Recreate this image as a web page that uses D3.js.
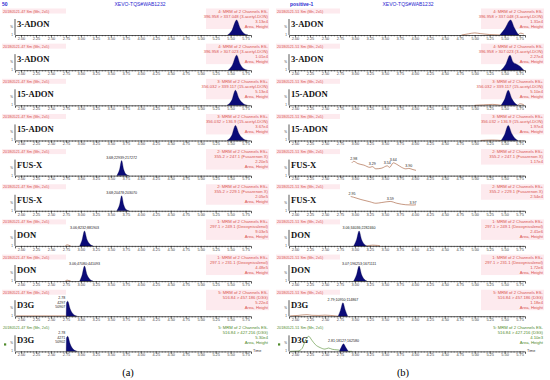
<!DOCTYPE html>
<html>
<head>
<meta charset="utf-8">
<script src="https://cdn.jsdelivr.net/npm/d3@7"></script>
<style>
  body { margin: 0; background: #fff; }
  svg { display: block; font-family: "Liberation Sans", Arial, sans-serif; }
</style>
</head>
<body>
<div id="chart"></div>
<script>
var W = 550, H = 380;

// ---- data ----
var instrument = "XEVO-TQS#WAB1232";
var sampleNames = ["50", "positive-1"];
var runHeaders = ["20180521-47 Sm (Mn, 2x5)", "20180521-51 Sm (Mn, 2x5)"];
var compounds = ["3-ADON", "3-ADON", "15-ADON", "15-ADON", "FUS-X", "FUS-X", "DON", "DON", "D3G", "D3G"];
var channelLines = ["4: MRM of 2 Channels ES-", "4: MRM of 2 Channels ES-", "3: MRM of 2 Channels ES+", "3: MRM of 2 Channels ES+",
  "2: MRM of 2 Channels ES+", "2: MRM of 2 Channels ES+", "1: MRM of 2 Channels ES+", "1: MRM of 2 Channels ES+",
  "5: MRM of 2 Channels ES-", "5: MRM of 2 Channels ES-"];
var transitions = ["396.958 > 337.048 (3-acetyl-DON)", "396.958 > 307.023 (3-acetyl-DON)",
  "356.032 > 339.117 (15-acetyl-DON)", "356.032 > 136.9 (15-acetyl-DON)",
  "355.2 > 247.1 (Fusarenon X)", "355.2 > 229.1 (Fusarenon X)",
  "297.1 > 249.1 (Deoxynivalenol)", "297.1 > 231.1 (Deoxynivalenol)",
  "516.84 > 457.186 (D3G)", "516.84 > 427.216 (D3G)"];
var intensityA = ["3.13e4", "1.01e4", "5.13e4", "3.67e4", "2.20e5", "2.05e5", "9.03e5", "4.48e5", "5.22e4", "5.30e4"];
var intensityB = ["1.31e4", "2.27e4", "5.10e4", "1.97e4", "1.17e4", "2.54e4", "2.41e6", "1.72e6", "1.18e4", "4.10e3"];
var areaHeightB = [true, true, true, true, false, false, true, true, true, true];
var xTicks = [2.00, 2.25, 2.50, 2.75, 3.00, 3.25, 3.50, 3.75, 4.00, 4.25, 4.50, 4.75, 5.00, 5.25, 5.50, 5.75];

// integrated peaks: [retention time, % of full scale]
var peaksA = [
  [[5.45,0],[5.52,30],[5.60,100],[5.66,45],[5.72,12],[5.79,0]],
  [[5.46,0],[5.53,35],[5.60,100],[5.66,40],[5.72,10],[5.78,0]],
  [[5.44,0],[5.52,35],[5.58,100],[5.64,45],[5.71,12],[5.78,0]],
  [[5.44,0],[5.52,35],[5.58,100],[5.64,45],[5.71,12],[5.78,0]],
  [[3.60,0],[3.645,40],[3.68,100],[3.715,40],[3.75,10],[3.80,0]],
  [[3.60,0],[3.645,40],[3.68,100],[3.715,40],[3.75,10],[3.80,0]],
  [[2.98,0],[3.02,40],[3.06,100],[3.10,45],[3.15,12],[3.20,0]],
  [[2.98,0],[3.02,40],[3.06,100],[3.10,45],[3.15,12],[3.20,0]],
  [[2.755,0],[2.76,90],[2.78,100],[2.82,50],[2.87,15],[2.94,0]],
  [[2.755,0],[2.76,90],[2.78,100],[2.82,50],[2.87,15],[2.94,0]]
];
var peaksB = [
  [[5.42,0],[5.50,40],[5.60,100],[5.66,50],[5.70,20],[5.74,0]],
  [[5.44,0],[5.52,40],[5.59,100],[5.64,55],[5.70,40],[5.76,25],[5.82,0]],
  [[5.44,0],[5.50,40],[5.56,100],[5.62,45],[5.67,15],[5.72,0]],
  [[5.44,0],[5.50,40],[5.56,100],[5.62,45],[5.67,15],[5.72,0]],
  null,
  null,
  [[2.98,0],[3.03,45],[3.07,100],[3.11,45],[3.15,15],[3.20,0]],
  [[2.98,0],[3.03,45],[3.07,100],[3.11,45],[3.15,15],[3.20,0]],
  [[2.72,0],[2.76,40],[2.80,90],[2.84,40],[2.88,0]],
  [[2.74,0],[2.77,25],[2.81,50],[2.85,25],[2.89,0]]
];

// baseline traces (segments)
var noiseA = [[], [], [], [], [], [],
  [[[2.74,0],[2.77,7],[2.80,4],[2.83,0]]],
  [[[2.74,0],[2.77,6],[2.80,3],[2.83,0]]],
  [[[1.92,2],[2.30,2],[2.74,2],[2.76,0]]],
  []
];
var noiseB = [
  [[[4.78,0],[4.90,8],[5.00,14],[5.10,9],[5.25,3],[5.42,0]], [[5.72,0],[5.77,12],[5.82,6]]],
  [],
  [[[5.00,0],[5.15,3],[5.30,6],[5.44,0]], [[5.72,0],[5.76,10],[5.82,4]]],
  [[[5.10,0],[5.30,3],[5.44,0]]],
  [[[2.95,85],[2.98,95],[3.05,80],[3.15,70],[3.25,55],[3.29,60],[3.35,45],[3.45,50],[3.54,65],[3.58,55],[3.64,85],[3.70,75],[3.78,55],[3.85,45],[3.90,48],[3.97,40],[4.02,35]]],
  [[[2.93,95],[2.98,90],[3.10,75],[3.25,60],[3.35,50],[3.45,55],[3.59,62],[3.70,50],[3.85,40],[3.97,38],[4.02,40]]],
  [[[3.20,0],[3.30,5],[3.38,3],[3.42,0]]],
  [],
  [[[1.92,2],[2.05,5],[2.12,8],[2.20,10],[2.28,6],[2.40,5],[2.50,7],[2.60,5],[2.72,0]]],
  [[[1.92,0],[2.05,2],[2.12,20],[2.18,80],[2.23,100],[2.28,75],[2.34,45],[2.42,25],[2.50,15],[2.56,22],[2.62,14],[2.70,10],[2.74,8]], [[2.89,0],[2.95,0]]]
];

// peak annotations: [rt, text lines]
var labelsA = [null, null, null, null,
  [3.68, ["3.68;22939;217272"]], [3.68, ["3.68;20478;203070"]],
  [3.06, ["3.06;8232;881903"]], [3.06, ["3.06;47080;441093"]],
  [2.755, ["2.78", "4297", "50907"]], [2.755, ["2.78", "4271", "50902"]]];
var labelsB = [null, null, null, null,
  [[2.98, "2.98"], [3.29, "3.29"], [3.54, "3.54"], [3.64, "3.64"], [3.90, "3.90"]],
  [[2.95, "2.95"], [3.59, "3.59"], [3.97, "3.97"]],
  [[3.07, "3.06;34036;2282460"]], [[3.07, "3.07;196253;1671111"]],
  [[2.80, "2.79;10950;114867"]], [[2.81, "2.81;18127;162580"]]];

// ---- layout ----
var RED = "#d9534f", GREEN = "#4f8a2b", BLUE = "#2a2ad0", NAVY = "#0b0b78", BROWN = "#a0522d";
var rowY = d3.range(10).map(function(i) { return 35 + i * 35.15; });
var panels = [
  {x0: 15, x1: 251, right: 268, title: 140, intens: intensityA, peaks: peaksA, noise: noiseA, header: runHeaders[0], name: sampleNames[0]},
  {x0: 289, x1: 525, right: 543, title: 408, intens: intensityB, peaks: peaksB, noise: noiseB, header: runHeaders[1], name: sampleNames[1]}
];

var svg = d3.select("#chart").append("svg").attr("width", W).attr("height", H);

panels.forEach(function(p, pi) {
  var x = d3.scaleLinear().domain([1.9, 5.84]).range([p.x0, p.x1]);
  var g = svg.append("g");

  g.append("text").attr("x", pi ? p.x0 + 1 : 2).attr("y", 6)
    .attr("font-size", 5).attr("font-weight", "bold").attr("fill", BLUE).text(p.name);
  g.append("text").attr("x", p.title).attr("y", 6).attr("text-anchor", "middle")
    .attr("font-size", 5).attr("fill", BLUE).text(instrument);

  compounds.forEach(function(c, i) {
    var base = rowY[i];
    var col = i === 9 ? GREEN : RED;
    var y = d3.scaleLinear().domain([0, 100]).range([base, base - 15]);
    var row = g.append("g");

    // header line (run name) with pale highlight
    var hy = base - 22.5;
    if (i < 9) row.append("rect").attr("x", p.x0 - 13).attr("y", hy - 4).attr("width", 64).attr("height", 5).attr("fill", "#fdeaee");
    row.append("text").attr("x", p.x0 - 12).attr("y", hy).attr("font-size", 3.8).attr("fill", col).text(p.header);

    // right-hand channel info
    var info = [channelLines[i], transitions[i], p.intens[i]];
    if (pi === 0 || areaHeightB[i]) info.push("Area, Height");
    if (i < 9) row.append("rect").attr("x", p.right - 62).attr("y", hy - 4).attr("width", 63).attr("height", info.length * 5 + 0.5).attr("fill", "#fdeaee");
    info.forEach(function(t, k) {
      row.append("text").attr("x", p.right).attr("y", hy + k * 5).attr("text-anchor", "end")
        .attr("font-size", 4.2).attr("fill", col).text(t);
    });

    // compound label
    row.append("text").attr("x", p.x0 + 2).attr("y", base - 8).attr("font-family", "'Liberation Serif', 'Times New Roman', serif")
      .attr("font-weight", "bold").attr("font-size", 8.6).attr("fill", "#111").text(c);

    // y axis stub
    row.append("line").attr("x1", p.x0).attr("x2", p.x0).attr("y1", base - 16).attr("y2", base).attr("stroke", "#111").attr("stroke-width", 0.7);
    row.append("text").attr("x", p.x0 - 2).attr("y", base - 7).attr("font-size", 3).attr("text-anchor", "end").attr("fill", "#333").text("%");
    row.append("text").attr("x", p.x0 - 2).attr("y", base + 1).attr("font-size", 3).attr("text-anchor", "end").attr("fill", "#333").text("1");

    // baseline traces
    var line = d3.line().x(function(d) { return x(d[0]); }).y(function(d) { return y(d[1]); }).curve(d3.curveMonotoneX);
    p.noise[i].forEach(function(seg) {
      row.append("path").attr("d", line(seg)).attr("fill", "none")
        .attr("stroke", pi === 1 && i === 9 ? GREEN : BROWN).attr("stroke-width", 0.6);
    });

    // integrated peak
    if (p.peaks[i]) {
      var area = d3.area().x(function(d) { return x(d[0]); }).y0(base).y1(function(d) { return y(d[1]); }).curve(d3.curveMonotoneX);
      row.append("path").attr("d", area(p.peaks[i])).attr("fill", NAVY).attr("stroke", "#050540").attr("stroke-width", 0.3);
    }

    // x axis
    var axis = d3.axisBottom(x).tickValues(xTicks).tickSize(2.5).tickFormat(d3.format(".2f"));
    var ax = row.append("g").attr("transform", "translate(0," + base + ")").call(axis);
    ax.select(".domain").attr("stroke", "#111").attr("stroke-width", 0.7);
    ax.selectAll(".tick line").attr("stroke", "#111").attr("stroke-width", 0.5);
    ax.selectAll(".tick text").attr("font-size", 3.9).attr("fill", "#444").attr("dy", "0.3em").attr("y", 3.6)
      .attr("font-family", "'Liberation Sans', Arial, sans-serif");
    var minor = d3.axisBottom(x).tickValues(d3.range(2.0, 5.84, 0.05)).tickSize(1.4).tickFormat("");
    var mx = row.append("g").attr("transform", "translate(0," + base + ")").call(minor);
    mx.select(".domain").remove();
    mx.selectAll(".tick line").attr("stroke", "#111").attr("stroke-width", 0.4);

    // peak annotations
    if (pi === 0 && labelsA[i]) {
      var la = labelsA[i];
      if (la[1].length === 1) {
        row.append("text").attr("x", x(la[0])).attr("y", base - 16.5).attr("text-anchor", "middle")
          .attr("font-size", 3.6).attr("fill", "#222").text(la[1][0]);
      } else {
        la[1].forEach(function(t, k) {
          row.append("text").attr("x", x(la[0]) - 1).attr("y", base - 17 + k * 4.3).attr("text-anchor", "end")
            .attr("font-size", 3.6).attr("fill", "#222").text(t);
        });
      }
    }
    if (pi === 1 && labelsB[i]) {
      labelsB[i].forEach(function(lb) {
        var top = 100;
        var pts = (p.noise[i][0] || []);
        if (i === 4 || i === 5) {
          var near = pts.reduce(function(a, b) { return Math.abs(b[0] - lb[0]) < Math.abs(a[0] - lb[0]) ? b : a; });
          top = near[1];
        } else if (p.peaks[i]) {
          top = d3.max(p.peaks[i], function(d) { return d[1]; });
        }
        row.append("text").attr("x", x(lb[0])).attr("y", y(top) - 1.5).attr("text-anchor", "middle")
          .attr("font-size", 3.6).attr("fill", "#222").text(lb[1]);
      });
    }

    if (i === 9) {
      row.append("rect").attr("x", p.x0 - 11).attr("y", base - 8).attr("width", 2.2).attr("height", 2.2).attr("fill", GREEN);
      row.append("text").attr("x", p.x1 + 2).attr("y", base + 1).attr("font-size", 3.8).attr("fill", "#333").text("Time");
    }
  });
});

svg.append("text").attr("x", 128).attr("y", 376).attr("text-anchor", "middle")
  .attr("font-family", "'Liberation Serif', 'Times New Roman', serif").attr("font-size", 10.5).attr("fill", "#000").text("(a)");
svg.append("text").attr("x", 403).attr("y", 376).attr("text-anchor", "middle")
  .attr("font-family", "'Liberation Serif', 'Times New Roman', serif").attr("font-size", 10.5).attr("fill", "#000").text("(b)");
</script>
</body>
</html>
